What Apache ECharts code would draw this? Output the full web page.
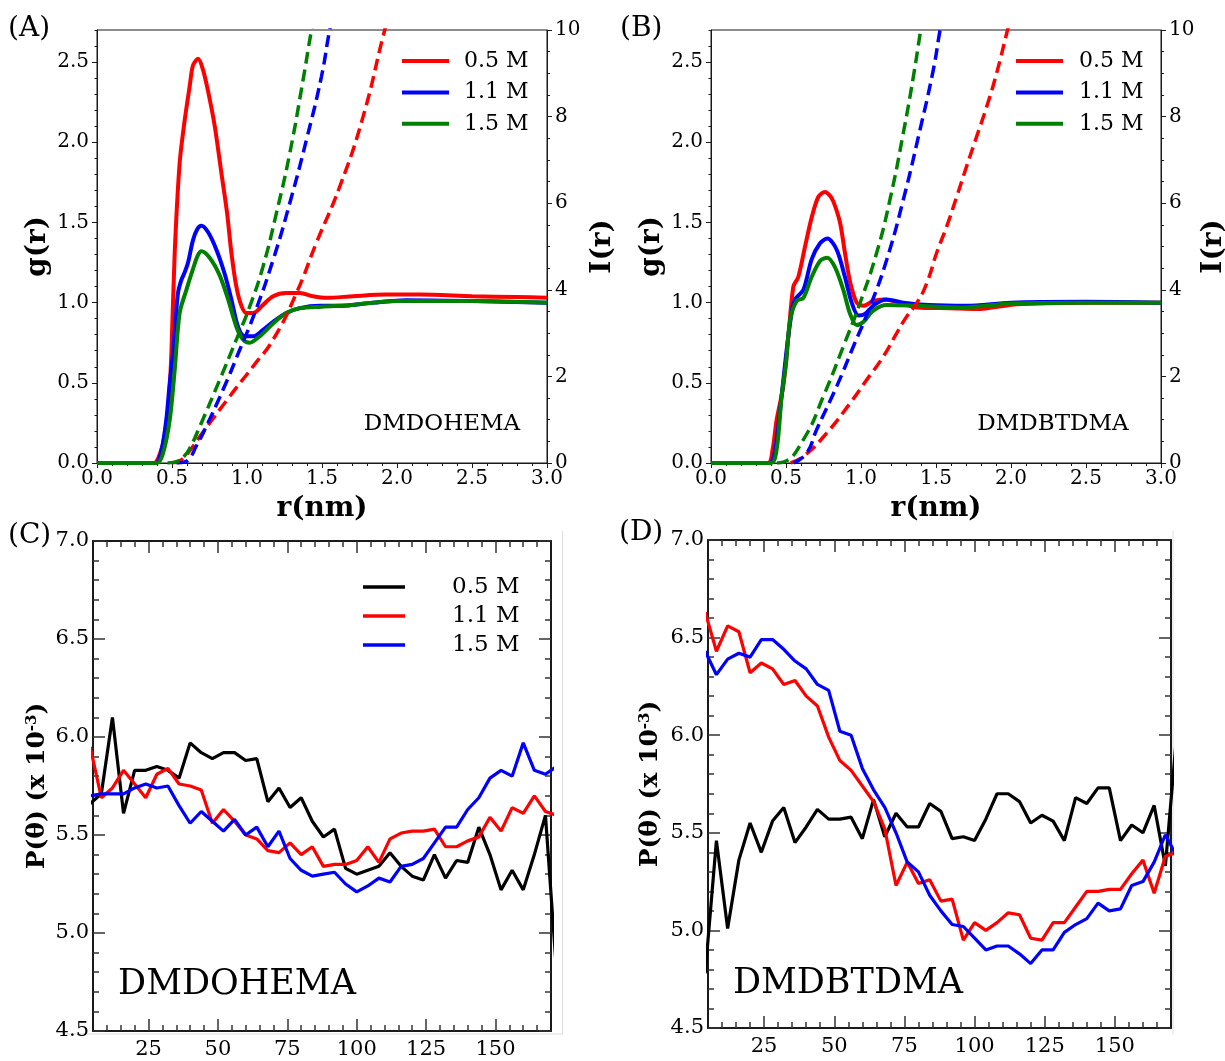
<!DOCTYPE html>
<html>
<head>
<meta charset="utf-8">
<title>RDF and angular distribution</title>
<script src="https://cdn.jsdelivr.net/npm/echarts@6/dist/echarts.min.js"></script>
<style>
  html, body { margin: 0; padding: 0; background: #fff; }
  #chart { width: 1225px; height: 1061px; }
</style>
</head>
<body>
<div id="chart"></div>
<script>
// (A) DMDOHEMA  g(r), [r, g]
const gA_05 = [[0,0],[0.38,0],[0.42,0.06],[0.451,0.17],[0.48,0.4],[0.496,0.69],[0.518,1.31],[0.551,1.87],[0.585,2.14],[0.618,2.35],[0.64,2.48],[0.674,2.52],[0.707,2.45],[0.74,2.32],[0.785,2.10],[0.829,1.81],[0.867,1.56],[0.896,1.31],[0.929,1.10],[0.963,0.98],[0.996,0.935],[1.04,0.935],[1.107,0.986],[1.174,1.04],[1.262,1.06],[1.351,1.06],[1.44,1.04],[1.53,1.03],[1.707,1.04],[1.929,1.05],[2.151,1.05],[2.5,1.04],[2.8,1.035],[3.0,1.03]]
const gA_11 = [[0,0],[0.39,0],[0.43,0.08],[0.462,0.27],[0.485,0.5],[0.507,0.685],[0.525,0.9],[0.54,1.06],[0.562,1.14],[0.585,1.19],[0.607,1.25],[0.64,1.39],[0.67,1.46],[0.696,1.48],[0.74,1.44],[0.796,1.33],[0.851,1.18],[0.896,1.02],[0.94,0.85],[0.985,0.79],[1.04,0.79],[1.107,0.83],[1.174,0.88],[1.262,0.935],[1.351,0.966],[1.485,0.98],[1.618,0.98],[1.84,1.0],[2.06,1.015],[2.5,1.01],[3.0,1.0]]
const gA_15 = [[0,0],[0.40,0],[0.44,0.06],[0.485,0.27],[0.518,0.58],[0.551,0.935],[0.596,1.08],[0.64,1.21],[0.67,1.29],[0.696,1.32],[0.751,1.28],[0.818,1.17],[0.874,1.02],[0.929,0.85],[0.973,0.77],[1.018,0.75],[1.085,0.79],[1.174,0.87],[1.262,0.935],[1.351,0.965],[1.5,0.975],[1.7,0.985],[2.0,1.01],[2.5,1.01],[3.0,1.0]]
// (A) running coordination number I(r)
const iA_05 = [[0.5,0],[0.55,0.05],[0.6,0.2],[0.685,0.61],[0.885,1.54],[1.04,2.23],[1.174,2.85],[1.329,3.92],[1.462,5.08],[1.618,6.38],[1.774,8.0],[1.918,10.0],[2.0,11.0]]
const iA_11 = [[0.53,0],[0.58,0.02],[0.62,0.12],[0.66,0.38],[0.707,0.69],[0.84,1.69],[0.951,2.61],[1.051,3.46],[1.174,4.69],[1.285,6.0],[1.396,7.46],[1.496,8.92],[1.551,10.0],[1.6,10.8]]
const iA_15 = [[0.47,0],[0.53,0.03],[0.58,0.15],[0.62,0.35],[0.685,0.84],[0.818,1.92],[0.929,2.85],[1.018,3.61],[1.107,4.54],[1.196,5.77],[1.285,7.15],[1.374,8.85],[1.43,10.0],[1.48,10.9]]

// (B) DMDBTDMA
const gB_05 = [[0,0],[0.38,0],[0.41,0.08],[0.438,0.27],[0.482,0.48],[0.516,0.79],[0.549,1.10],[0.582,1.16],[0.627,1.35],[0.671,1.53],[0.716,1.66],[0.76,1.69],[0.79,1.67],[0.816,1.63],[0.86,1.50],[0.893,1.31],[0.927,1.13],[0.971,1.0],[1.016,0.98],[1.082,1.01],[1.149,1.02],[1.26,1.0],[1.371,0.97],[1.593,0.965],[1.77,0.96],[2.04,0.99],[2.5,1.0],[3.0,1.0]]
const gB_11 = [[0,0],[0.39,0],[0.43,0.1],[0.471,0.42],[0.51,0.75],[0.54,0.95],[0.56,1.02],[0.616,1.08],[0.671,1.27],[0.727,1.37],[0.776,1.40],[0.838,1.33],[0.893,1.16],[0.938,1.0],[0.982,0.92],[1.027,0.93],[1.093,0.99],[1.171,1.02],[1.282,1.0],[1.45,0.985],[1.7,0.98],[2.0,1.0],[2.5,1.005],[3.0,1.0]]
const gB_15 = [[0,0],[0.40,0],[0.44,0.1],[0.471,0.42],[0.5,0.62],[0.527,0.89],[0.571,1.01],[0.616,1.03],[0.671,1.16],[0.727,1.26],[0.776,1.28],[0.827,1.22],[0.882,1.08],[0.927,0.93],[0.971,0.86],[1.016,0.88],[1.082,0.95],[1.171,0.985],[1.371,0.98],[1.682,0.97],[2.0,0.995],[2.5,1.0],[3.0,1.0]]
const iB_05 = [[0.53,0],[0.616,0.15],[0.771,0.69],[0.927,1.38],[1.038,1.92],[1.149,2.46],[1.238,3.0],[1.304,3.38],[1.371,3.69],[1.438,4.15],[1.504,4.85],[1.571,5.46],[1.638,6.15],[1.704,6.85],[1.771,7.54],[1.838,8.23],[1.904,9.0],[1.971,9.92],[2.02,10.6]]
const iB_11 = [[0.549,0],[0.638,0.23],[0.704,0.77],[0.838,1.77],[0.949,2.69],[1.06,3.61],[1.171,4.69],[1.282,6.08],[1.393,7.69],[1.482,9.08],[1.527,10.0],[1.57,10.8]]
const iB_15 = [[0.44,0],[0.482,0.02],[0.616,0.54],[0.749,1.54],[0.882,2.69],[0.993,3.69],[1.104,4.85],[1.193,6.08],[1.282,7.62],[1.349,8.92],[1.398,10.0],[1.44,10.9]]

// (C)/(D) angular distribution, theta in degrees
const theta = [4, 8, 12, 16, 20, 24, 28, 32, 36, 40, 44, 48, 52, 56, 60, 64, 68, 72, 76, 80, 84, 88, 92, 96, 100, 104, 108, 112, 116, 120, 124, 128, 132, 136, 140, 144, 148, 152, 156, 160, 164, 168, 172]
const pC_05 = [5.66, 5.71, 6.10, 5.61, 5.83, 5.83, 5.85, 5.83, 5.79, 5.97, 5.92, 5.89, 5.92, 5.92, 5.88, 5.89, 5.67, 5.74, 5.64, 5.69, 5.57, 5.49, 5.53, 5.33, 5.30, 5.32, 5.34, 5.41, 5.34, 5.29, 5.27, 5.40, 5.28, 5.37, 5.36, 5.54, 5.40, 5.22, 5.32, 5.22, 5.40, 5.60, 4.80]
const pC_11 = [5.95, 5.69, 5.74, 5.83, 5.76, 5.69, 5.81, 5.84, 5.76, 5.75, 5.73, 5.56, 5.63, 5.57, 5.50, 5.48, 5.42, 5.41, 5.46, 5.40, 5.44, 5.34, 5.35, 5.35, 5.37, 5.44, 5.36, 5.48, 5.51, 5.52, 5.52, 5.53, 5.44, 5.44, 5.47, 5.49, 5.59, 5.52, 5.64, 5.61, 5.70, 5.62, 5.60]
const pC_15 = [5.70, 5.71, 5.71, 5.71, 5.74, 5.76, 5.74, 5.75, 5.65, 5.56, 5.62, 5.57, 5.52, 5.58, 5.50, 5.54, 5.44, 5.52, 5.38, 5.32, 5.29, 5.30, 5.31, 5.25, 5.21, 5.24, 5.28, 5.26, 5.34, 5.35, 5.38, 5.46, 5.54, 5.54, 5.63, 5.69, 5.79, 5.83, 5.80, 5.97, 5.83, 5.81, 5.85]
const pD_05 = [4.78, 5.46, 5.01, 5.36, 5.55, 5.40, 5.56, 5.63, 5.45, 5.53, 5.62, 5.57, 5.57, 5.58, 5.47, 5.67, 5.48, 5.60, 5.53, 5.53, 5.65, 5.61, 5.47, 5.48, 5.46, 5.57, 5.70, 5.70, 5.66, 5.55, 5.59, 5.56, 5.46, 5.68, 5.65, 5.73, 5.73, 5.46, 5.54, 5.50, 5.64, 5.33, 6.00]
const pD_11 = [6.63, 6.43, 6.56, 6.53, 6.32, 6.37, 6.34, 6.26, 6.28, 6.20, 6.15, 5.99, 5.87, 5.82, 5.74, 5.66, 5.52, 5.23, 5.35, 5.24, 5.26, 5.15, 5.16, 4.95, 5.04, 5.00, 5.04, 5.09, 5.08, 4.96, 4.95, 5.04, 5.04, 5.12, 5.20, 5.20, 5.21, 5.21, 5.29, 5.36, 5.19, 5.38, 5.40]
const pD_15 = [6.43, 6.31, 6.39, 6.42, 6.40, 6.49, 6.49, 6.44, 6.38, 6.34, 6.26, 6.23, 6.02, 6.00, 5.83, 5.72, 5.63, 5.50, 5.35, 5.30, 5.18, 5.10, 5.03, 5.02, 4.96, 4.90, 4.92, 4.92, 4.88, 4.83, 4.90, 4.90, 4.99, 5.03, 5.06, 5.14, 5.10, 5.11, 5.23, 5.25, 5.35, 5.49, 5.38]

const concLabels = ['0.5 M', '1.1 M', '1.5 M']
const thetaMajor = [25, 50, 75, 100, 125, 150]
const thetaMinor = [10, 15, 20, 30, 35, 40, 45, 55, 60, 65, 70, 80, 85, 90, 95, 105, 110, 115, 120, 130, 135, 140, 145, 155, 160, 165]

const SERIF = 'DejaVu Serif'
const INK = '#1a1a1a'
const RED = '#ff0000', BLUE = '#0000ff', GREEN = '#008000', BLACK = '#000000'

const chart = echarts.init(document.getElementById('chart'), null, { renderer: 'canvas' })

const nameStyle = (size) => ({ fontFamily: SERIF, fontWeight: 'bold', fontSize: size, color: '#000' })
const thin = { color: INK, width: 1 }
const thick = { color: INK, width: 2 }

function rX(grid) {
  return {
    gridIndex: grid, type: 'value', position: 'bottom', min: 0, max: 3, interval: 0.5,
    name: 'r(nm)', nameLocation: 'middle', nameGap: 32, nameMoveOverlap: false,
    nameTextStyle: nameStyle(28),
    axisLine: { show: true, onZero: false, lineStyle: thin },
    axisTick: { show: true, length: 5, lineStyle: thin },
    minorTick: { show: true, splitNumber: 5, length: 3, lineStyle: thin },
    axisLabel: { margin: 6, fontFamily: SERIF, fontSize: 20, color: '#000', formatter: v => v.toFixed(1) },
    splitLine: { show: false }
  }
}
function gY(grid) {
  return {
    gridIndex: grid, type: 'value', position: 'left', min: 0, max: 2.7, interval: 0.5,
    name: 'g(r)', nameLocation: 'middle', nameRotate: 90, nameGap: 45, nameMoveOverlap: false,
    nameTextStyle: nameStyle(28),
    axisLine: { show: true, onZero: false, lineStyle: thin },
    axisTick: { show: true, length: 5, lineStyle: thin },
    axisLabel: { margin: 8, fontFamily: SERIF, fontSize: 20, color: '#000', showMaxLabel: false, formatter: v => v.toFixed(1) },
    splitLine: { show: false }
  }
}
function gYMinor(grid) {
  return {
    gridIndex: grid, type: 'value', position: 'left', min: 0, max: 2.7, interval: 0.1,
    axisLine: { show: false, onZero: false },
    axisTick: { show: true, length: 2.5, lineStyle: thin },
    axisLabel: { show: false }, splitLine: { show: false }
  }
}
function iY(grid, gap) {
  return {
    gridIndex: grid, type: 'value', position: 'right', min: 0, max: 10, interval: 2,
    name: 'I(r)', nameLocation: 'middle', nameRotate: 90, nameGap: gap, nameMoveOverlap: false,
    nameTextStyle: nameStyle(28),
    axisLine: { show: true, onZero: false, lineStyle: thin },
    axisTick: { show: true, length: 5, lineStyle: thin },
    minorTick: { show: true, splitNumber: 4, length: 3, lineStyle: thin },
    axisLabel: { margin: 8, fontFamily: SERIF, fontSize: 20, color: '#000' },
    splitLine: { show: false }
  }
}
// theta axis: minor ticks and major ticks on two overlaid axes, both from customValues
function tX(grid, pos, major) {
  const ax = {
    gridIndex: grid, type: 'value', position: pos, min: 5, max: 170,
    axisLine: { show: !major, onZero: false, lineStyle: thick },
    axisTick: { show: true, inside: true, length: major ? 12 : 6, lineStyle: { color: '#333', width: 1.5 },
      customValues: major ? thetaMajor : thetaMinor },
    axisLabel: { show: false }, splitLine: { show: false }
  }
  if (!major && pos === 'bottom') {
    ax.axisLabel = { show: true, customValues: thetaMajor, margin: 8, fontFamily: SERIF, fontSize: 21, color: '#000' }
  }
  return ax
}
function pY(grid, pos, gap) {
  const ax = {
    gridIndex: grid, type: 'value', position: pos, min: 4.5, max: 7.0, interval: 0.5,
    axisLine: { show: true, onZero: false, lineStyle: thick },
    axisTick: { show: true, inside: true, length: 12, lineStyle: { color: '#333', width: 1.5 } },
    minorTick: { show: true, splitNumber: 5, length: 6, lineStyle: { color: '#333', width: 1.5 } },
    axisLabel: { show: false }, splitLine: { show: false }
  }
  if (pos === 'left') {
    ax.axisLabel = { show: true, margin: 4, fontFamily: SERIF, fontSize: 21, color: '#000', formatter: v => v.toFixed(1) }
    ax.name = 'P(θ) (x 10{sup|-3})'
    ax.nameLocation = 'middle'
    ax.nameRotate = 90
    ax.nameGap = gap
    ax.nameMoveOverlap = false
    ax.nameTextStyle = Object.assign(nameStyle(25), {
      rich: { sup: { fontFamily: SERIF, fontWeight: 'bold', fontSize: 15, verticalAlign: 'top', padding: [0, 0, 9, 0] } }
    })
  }
  return ax
}

function rdf(name, data, color, x, y) {
  return {
    name, type: 'line', xAxisIndex: x, yAxisIndex: y, data,
    showSymbol: false, symbol: 'none', smooth: 0.3,
    lineStyle: { color, width: 4 }, itemStyle: { color }, animation: false
  }
}
function cn(name, data, color, x, y) {
  return {
    name, type: 'line', xAxisIndex: x, yAxisIndex: y, data,
    showSymbol: false, symbol: 'none', smooth: 0.5,
    lineStyle: { color, width: 3.5, type: [12, 6] }, itemStyle: { color }, animation: false
  }
}
function pth(name, vals, color, x, y) {
  return {
    name, type: 'line', xAxisIndex: x, yAxisIndex: y,
    data: theta.map((t, i) => [t, vals[i]]),
    showSymbol: false, symbol: 'none',
    lineStyle: { color, width: 3.2 }, itemStyle: { color }, animation: false
  }
}
function legendAt(prefix, left, top, fs, gap, w, h, pad) {
  return {
    data: concLabels.map(c => prefix + '|' + c), orient: 'vertical', left, top, padding: 0,
    icon: 'rect', itemWidth: w, itemHeight: h, itemGap: gap, selectedMode: false,
    formatter: n => n.split('|')[1],
    textStyle: { fontFamily: SERIF, fontSize: fs, lineHeight: fs, color: '#000', padding: [0, 0, 0, pad] }
  }
}

const option = {
  backgroundColor: '#fff',
  animation: false,
  textStyle: { fontFamily: SERIF },
  grid: [
    { left: 97, top: 30, width: 450, height: 433, show: true, borderColor: INK, borderWidth: 1, outerBoundsMode: 'none' },
    { left: 711, top: 30, width: 450, height: 433, show: true, borderColor: INK, borderWidth: 1, outerBoundsMode: 'none' },
    { left: 93, top: 541, width: 458, height: 490, outerBoundsMode: 'none' },
    { left: 708, top: 540, width: 463, height: 488, outerBoundsMode: 'none' }
  ],
  xAxis: [
    rX(0), rX(1),
    tX(2, 'bottom', false), tX(2, 'bottom', true), tX(2, 'top', false), tX(2, 'top', true),
    tX(3, 'bottom', false), tX(3, 'bottom', true), tX(3, 'top', false), tX(3, 'top', true)
  ],
  yAxis: [
    gY(0), gYMinor(0), iY(0, 42),
    gY(1), gYMinor(1), iY(1, 39),
    pY(2, 'left', 43), pY(2, 'right'),
    pY(3, 'left', 45), pY(3, 'right')
  ],
  legend: [
    legendAt('A', 402, 50, 22, 9.4, 47, 4, 10),
    legendAt('B', 1016, 50, 22, 9.4, 47, 4, 11),
    legendAt('C', 363, 575.5, 23, 6, 42, 3.5, 42)
  ],
  graphic: [
    { type: 'text', x: 8, y: 29, style: { text: '(A)', font: '28px "DejaVu Serif"', fill: '#000', textVerticalAlign: 'middle' } },
    { type: 'text', x: 620, y: 29, style: { text: '(B)', font: '28px "DejaVu Serif"', fill: '#000', textVerticalAlign: 'middle' } },
    { type: 'text', x: 8, y: 536, style: { text: '(C)', font: '28px "DejaVu Serif"', fill: '#000', textVerticalAlign: 'middle' } },
    { type: 'text', x: 619, y: 533, style: { text: '(D)', font: '28px "DejaVu Serif"', fill: '#000', textVerticalAlign: 'middle' } },
    { type: 'text', x: 442, y: 424, style: { text: 'DMDOHEMA', font: '23px "DejaVu Serif"', fill: '#000', textAlign: 'center', textVerticalAlign: 'middle' } },
    { type: 'text', x: 1053, y: 424, style: { text: 'DMDBTDMA', font: '23px "DejaVu Serif"', fill: '#000', textAlign: 'center', textVerticalAlign: 'middle' } },
    { type: 'text', x: 237, y: 985, style: { text: 'DMDOHEMA', font: '35px "DejaVu Serif"', fill: '#000', textAlign: 'center', textVerticalAlign: 'middle' } },
    { type: 'text', x: 848, y: 984, style: { text: 'DMDBTDMA', font: '35px "DejaVu Serif"', fill: '#000', textAlign: 'center', textVerticalAlign: 'middle' } },
    { type: 'line', shape: { x1: 562.5, y1: 531, x2: 562.5, y2: 1034 }, style: { stroke: '#dddddd', lineWidth: 1 } },
    { type: 'line', shape: { x1: 64, y1: 1034, x2: 562.5, y2: 1034 }, style: { stroke: '#dddddd', lineWidth: 1 } },
    { type: 'line', shape: { x1: 1173, y1: 531, x2: 1173, y2: 1034 }, style: { stroke: '#dddddd', lineWidth: 1 } }
  ],
  series: [
    rdf('A|0.5 M', gA_05, RED, 0, 0), rdf('A|1.1 M', gA_11, BLUE, 0, 0), rdf('A|1.5 M', gA_15, GREEN, 0, 0),
    cn('A|I 0.5 M', iA_05, RED, 0, 2), cn('A|I 1.1 M', iA_11, BLUE, 0, 2), cn('A|I 1.5 M', iA_15, GREEN, 0, 2),
    rdf('B|0.5 M', gB_05, RED, 1, 3), rdf('B|1.1 M', gB_11, BLUE, 1, 3), rdf('B|1.5 M', gB_15, GREEN, 1, 3),
    cn('B|I 0.5 M', iB_05, RED, 1, 5), cn('B|I 1.1 M', iB_11, BLUE, 1, 5), cn('B|I 1.5 M', iB_15, GREEN, 1, 5),
    pth('C|0.5 M', pC_05, BLACK, 2, 6), pth('C|1.1 M', pC_11, RED, 2, 6), pth('C|1.5 M', pC_15, BLUE, 2, 6),
    pth('D|0.5 M', pD_05, BLACK, 6, 8), pth('D|1.1 M', pD_11, RED, 6, 8), pth('D|1.5 M', pD_15, BLUE, 6, 8)
  ]
}

chart.setOption(option)
</script>
</body>
</html>
